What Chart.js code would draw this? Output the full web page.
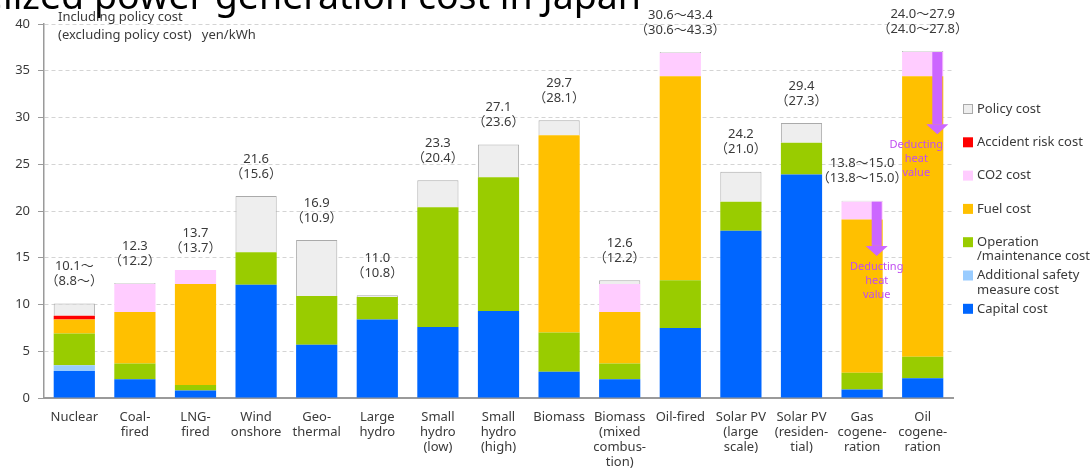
<!DOCTYPE html>
<html>
<head>
<meta charset="utf-8">
<script src="https://cdn.jsdelivr.net/npm/chart.js@4.4.0/dist/chart.umd.min.js"></script>
<style>
  body { margin: 0; background: #fff; }
  #wrap { width: 1091px; height: 468px; position: relative; }
</style>
</head>
<body>
<div id="wrap"><canvas id="costChart" width="1091" height="468"></canvas></div>
<script>
// --- Data ---
const categories = [
  ['Nuclear'], ['Coal-', 'fired'], ['LNG-', 'fired'], ['Wind', 'onshore'], ['Geo-', 'thermal'],
  ['Large', 'hydro'], ['Small', 'hydro', '(low)'], ['Small', 'hydro', '(high)'], ['Biomass'],
  ['Biomass', '(mixed', 'combus-', 'tion)'], ['Oil-fired'], ['Solar PV', '(large', 'scale)'],
  ['Solar PV', '(residen-', 'tial)'], ['Gas', 'cogene-', 'ration'], ['Oil', 'cogene-', 'ration']
];

const capitalCost     = [2.9, 2.0, 0.8, 12.1, 5.7, 8.4, 7.6, 9.3, 2.8, 2.0, 7.5, 17.9, 23.9, 0.9, 2.1];
const safetyCost      = [0.6, null, null, null, null, null, null, null, null, null, null, null, null, null, null];
const omCost          = [3.4, 1.7, 0.6, 3.5, 5.2, 2.4, 12.8, 14.3, 4.2, 1.7, 5.1, 3.1, 3.4, 1.8, 2.3];
const fuelCost        = [1.5, 5.5, 10.8, null, null, null, null, null, 21.1, 5.5, 21.8, null, null, 16.4, 30.0];
const co2Cost         = [null, 3.0, 1.5, null, null, null, null, null, null, 3.0, 2.5, null, null, 1.9, 2.6];
const accidentCost    = [0.4, null, null, null, null, null, null, null, null, null, null, null, null, null, null];
const policyCost      = [1.3, 0.1, null, 6.0, 6.0, 0.2, 2.9, 3.5, 1.6, 0.4, 0.1, 3.2, 2.1, 0.1, 0.1];

const totalLabels = ['10.1～', '12.3', '13.7', '21.6', '16.9', '11.0', '23.3', '27.1', '29.7', '12.6',
  '30.6～43.4', '24.2', '29.4', '13.8～15.0', '24.0～27.9'];
const exclLabels = ['（8.8～）', '（12.2）', '（13.7）', '（15.6）', '（10.9）', '（10.8）', '（20.4）', '（23.6）',
  '（28.1）', '（12.2）', '（30.6～43.3）', '（21.0）', '（27.3）', '（13.8～15.0）', '（24.0～27.8）'];

// heat value deduction arrows (category index, arrow tip value)
const heatCats = [13, 14];
const heatTips = [15.2, 28.2];

const yTicks = [0, 5, 10, 15, 20, 25, 30, 35, 40];

// --- Styles ---
const FONT = "'Noto Sans', 'Noto Sans CJK JP', sans-serif";
const TEXT = '#3a3a3a';

const series = [
  { name: ['Capital cost'], data: capitalCost, color: '#0066ff' },
  { name: ['Additional safety', 'measure cost'], data: safetyCost, color: '#99ccff' },
  { name: ['Operation', '/maintenance cost'], data: omCost, color: '#99cc00' },
  { name: ['Fuel cost'], data: fuelCost, color: '#ffc000' },
  { name: ['CO2 cost'], data: co2Cost, color: '#ffccff' },
  { name: ['Accident risk cost'], data: accidentCost, color: '#ff0000' },
  { name: ['Policy cost'], data: policyCost, color: '#eeeeee', border: '#aaaaaa' }
];

const stackTotal = (i, withPolicy) => series
  .filter(s => withPolicy || s.data !== policyCost)
  .reduce((acc, s) => acc + (s.data[i] || 0), 0);

// --- Extra drawing: title, notes, value labels, legend, arrows ---
const extras = {
  id: 'extras',
  afterDatasetsDraw(chart) {
    const { ctx, scales: { y } } = chart;
    const meta = chart.getDatasetMeta(series.length - 1);
    ctx.save();

    // heat value arrows
    heatCats.forEach((ci, k) => {
      const bar = meta.data[ci];
      const right = bar.x + bar.width / 2 - 1;
      const cx = right - 5;
      const top = y.getPixelForValue(stackTotal(ci, false));
      const tip = y.getPixelForValue(heatTips[k]);
      const headTop = tip - 10;
      ctx.fillStyle = '#cc66ff';
      ctx.fillRect(cx - 5, top, 10, headTop - top);
      ctx.beginPath();
      ctx.moveTo(cx - 11, headTop);
      ctx.lineTo(cx + 11, headTop);
      ctx.lineTo(cx, tip);
      ctx.closePath();
      ctx.fill();

      ctx.fillStyle = '#c04cf0';
      ctx.font = '11px ' + FONT;
      ctx.textAlign = 'center';
      ctx.textBaseline = 'middle';
      const tx = cx + (k === 0 ? 0 : -21);
      ['Deducting', 'heat', 'value'].forEach((t, j) => ctx.fillText(t, tx, tip + 11 + j * 14));
    });

    // value labels above bars
    ctx.fillStyle = TEXT;
    ctx.font = '13px ' + FONT;
    ctx.textAlign = 'center';
    ctx.textBaseline = 'middle';
    categories.forEach((c, i) => {
      const x = meta.data[i].x;
      const top = y.getPixelForValue(stackTotal(i, true));
      ctx.fillText(totalLabels[i], x, top - 37);
      ctx.fillText(exclLabels[i], x, top - 22);
    });
    ctx.restore();
  },
  afterDraw(chart) {
    const { ctx, chartArea } = chart;
    ctx.save();

    // partially visible title
    ctx.fillStyle = '#000';
    ctx.font = '37.5px ' + FONT;
    ctx.textAlign = 'right';
    ctx.textBaseline = 'alphabetic';
    ctx.fillText('Levelized power generation cost in Japan', 641, 9);

    // unit notes
    ctx.fillStyle = TEXT;
    ctx.font = '13px ' + FONT;
    ctx.textAlign = 'left';
    ctx.textBaseline = 'middle';
    ctx.fillText('Including policy cost', chartArea.left + 14, 17);
    ctx.fillText('(excluding policy cost)   yen/kWh', chartArea.left + 14, 35);

    // legend, top of stack first
    const lx = chartArea.right + 10;
    series.slice().reverse().forEach((s, k) => {
      const ly = 109 + k * 33.3;
      ctx.fillStyle = s.color;
      ctx.fillRect(lx, ly - 5, 10, 10);
      if (s.border) {
        ctx.strokeStyle = s.border;
        ctx.lineWidth = 1;
        ctx.strokeRect(lx + 0.5, ly - 4.5, 9, 9);
      }
      ctx.fillStyle = TEXT;
      s.name.forEach((t, j) => ctx.fillText(t, lx + 14, ly + j * 14.5));
    });
    ctx.restore();
  }
};

// --- Chart ---
new Chart(document.getElementById('costChart'), {
  type: 'bar',
  data: {
    labels: categories,
    datasets: series.map(s => ({
      label: s.name.join(' '),
      data: s.data,
      backgroundColor: s.color,
      borderColor: s.border || s.color,
      borderWidth: s.border ? 1 : 0,
      barPercentage: 0.68,
      categoryPercentage: 1.0,
      stack: 'cost'
    }))
  },
  options: {
    responsive: false,
    animation: false,
    devicePixelRatio: 1,
    layout: { padding: { top: 24, right: 138, left: 0, bottom: 0 } },
    plugins: { legend: { display: false }, tooltip: { enabled: false } },
    scales: {
      x: {
        stacked: true,
        grid: { display: false },
        border: { display: true, color: '#9a9a9a', width: 2 },
        ticks: {
          color: TEXT,
          font: { family: FONT, size: 13, lineHeight: 1.15 },
          padding: 4,
          autoSkip: false,
          maxRotation: 0
        },
        afterFit: (scale) => { scale.height = 70; }
      },
      y: {
        stacked: true,
        min: 0,
        max: 40,
        afterBuildTicks: (scale) => { scale.ticks = yTicks.map(v => ({ value: v })); },
        grid: { color: '#d4d4d4', tickColor: '#9a9a9a', tickLength: 6, drawTicks: true },
        border: { display: true, color: '#9a9a9a', width: 1.5, dash: [4, 3] },
        ticks: { color: TEXT, font: { family: FONT, size: 13 }, padding: 8 },
        afterFit: (scale) => { scale.width = 44; }
      }
    }
  },
  plugins: [extras]
});
</script>
</body>
</html>
